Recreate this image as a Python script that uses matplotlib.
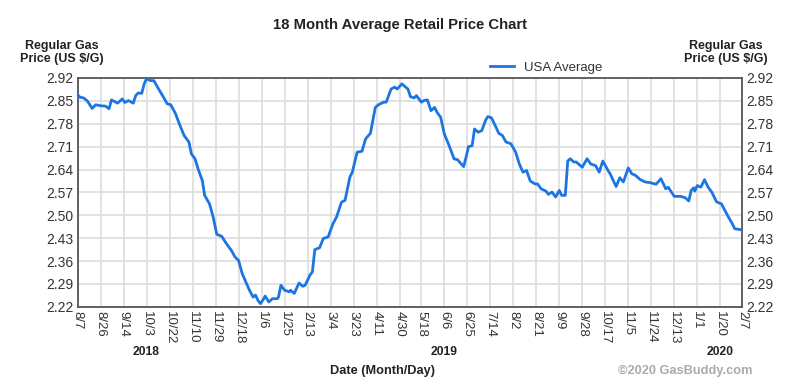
import pandas as pd
import matplotlib
matplotlib.use("Agg")
import matplotlib.pyplot as plt

plt.rcParams['font.family'] = ['Liberation Sans', 'DejaVu Sans']

# days since 2018-08-07 and average price (US $/gal)
start_date = "2018-08-07"
days = [0, 2, 5, 8, 12, 15, 19, 23, 26, 28, 33, 37, 39, 42, 46, 48, 50, 53, 55, 57,
        60, 63, 67, 71, 74, 77, 81, 84, 88, 92, 94, 97, 100, 103, 105, 109, 112, 115,
        119, 123, 127, 130, 133, 136, 139, 142, 145, 147, 149, 151, 153, 155, 158, 161,
        165, 166, 168, 171, 175, 176, 179, 183, 186, 188, 192, 194, 196, 200, 203, 207,
        211, 214, 218, 221, 225, 227, 231, 235, 238, 242, 246, 249, 253, 255, 259, 262,
        264, 268, 271, 273, 275, 278, 280, 284, 286, 289, 292, 295, 297, 300, 303, 307,
        311, 314, 317, 319, 321, 323, 326, 328, 331, 334, 337, 339, 342, 345, 348, 351,
        354, 358, 362, 365, 368, 371, 374, 378, 380, 383, 387, 389, 392, 395, 398, 400,
        403, 405, 407, 410, 412, 417, 421, 424, 428, 431, 434, 438, 440, 445, 448, 451,
        455, 458, 461, 465, 469, 473, 478, 482, 486, 488, 493, 498, 502, 505, 507, 509,
        510, 512, 515, 518, 521, 524, 528, 532, 537, 541, 543, 548, 549]
prices = [2.869, 2.861, 2.859, 2.850, 2.827, 2.838, 2.835, 2.834, 2.826, 2.853, 2.843,
          2.856, 2.845, 2.851, 2.843, 2.866, 2.874, 2.873, 2.902, 2.918, 2.912, 2.912,
          2.886, 2.861, 2.841, 2.838, 2.810, 2.780, 2.744, 2.724, 2.688, 2.673, 2.637,
          2.607, 2.561, 2.535, 2.495, 2.442, 2.436, 2.413, 2.393, 2.373, 2.362, 2.322,
          2.296, 2.271, 2.250, 2.256, 2.240, 2.230, 2.240, 2.253, 2.235, 2.245, 2.245,
          2.250, 2.286, 2.271, 2.266, 2.271, 2.261, 2.293, 2.283, 2.286, 2.317, 2.327,
          2.395, 2.401, 2.429, 2.434, 2.474, 2.495, 2.540, 2.546, 2.617, 2.632, 2.693,
          2.696, 2.734, 2.751, 2.830, 2.839, 2.846, 2.846, 2.886, 2.892, 2.886, 2.902,
          2.892, 2.886, 2.863, 2.859, 2.866, 2.846, 2.851, 2.853, 2.820, 2.830, 2.815,
          2.800, 2.749, 2.713, 2.673, 2.670, 2.657, 2.649, 2.678, 2.710, 2.713, 2.764,
          2.754, 2.759, 2.790, 2.802, 2.798, 2.775, 2.751, 2.744, 2.724, 2.719, 2.693,
          2.657, 2.632, 2.637, 2.605, 2.596, 2.596, 2.581, 2.574, 2.564, 2.571, 2.556,
          2.576, 2.561, 2.561, 2.666, 2.673, 2.663, 2.663, 2.647, 2.673, 2.657, 2.652,
          2.632, 2.666, 2.639, 2.627, 2.588, 2.615, 2.602, 2.645, 2.627, 2.622, 2.609,
          2.602, 2.600, 2.595, 2.612, 2.581, 2.586, 2.558, 2.558, 2.554, 2.544, 2.576,
          2.584, 2.574, 2.591, 2.586, 2.609, 2.586, 2.571, 2.541, 2.535, 2.500, 2.474,
          2.459, 2.456, 2.456]

tick_dates = ["2018-08-07", "2018-08-26", "2018-09-14", "2018-10-03", "2018-10-22",
              "2018-11-10", "2018-11-29", "2018-12-18", "2019-01-06", "2019-01-25",
              "2019-02-13", "2019-03-04", "2019-03-23", "2019-04-11", "2019-04-30",
              "2019-05-18", "2019-06-06", "2019-06-25", "2019-07-14", "2019-08-02",
              "2019-08-21", "2019-09-09", "2019-09-28", "2019-10-17", "2019-11-05",
              "2019-11-24", "2019-12-13", "2020-01-01", "2020-01-20", "2020-02-07"]
y_ticks = [2.22, 2.29, 2.36, 2.43, 2.50, 2.57, 2.64, 2.71, 2.78, 2.85, 2.92]
year_labels = ["2018", "2019", "2020"]
year_positions = ["2018-10-03", "2019-06-06", "2020-01-20"]

dates = pd.Timestamp(start_date) + pd.to_timedelta(days, unit="D")
ticks = pd.to_datetime(tick_dates)
tick_labels = [f"{d.month}/{d.day}" for d in ticks]

fig = plt.figure(figsize=(8, 3.86), dpi=100)
ax = fig.add_axes([0.097, 0.205, 0.8305, 0.593])

ax.plot(dates, prices, color='#1c75e0', linewidth=2.0, label='USA Average', zorder=3)

ax.set_xlim(ticks[0], ticks[-1])
ax.set_ylim(y_ticks[0], y_ticks[-1])
ax.set_xticks(ticks)
ax.set_xticklabels(tick_labels, rotation=270, fontsize=9.5, color='#333333')
ax.set_yticks(y_ticks)
ax.set_yticklabels([f"{v:.2f}" for v in y_ticks], fontsize=10, color='#333333')
ax.tick_params(axis='both', length=0, pad=3)
ax.tick_params(axis='y', labelright=True)
ax.grid(True, color='#dddddd', linewidth=1.2, zorder=0)
for s in ax.spines.values():
    s.set_color('#555555')
    s.set_linewidth(1.3)

fig.text(0.5, 0.935, "18 Month Average Retail Price Chart", ha='center', va='center',
         fontsize=10.7, fontweight='bold', color='#222222')
fig.text(0.077, 0.865, "Regular Gas\nPrice (US $/G)", ha='center', va='center',
         fontsize=9, fontweight='bold', color='#222222', linespacing=1.1)
fig.text(0.907, 0.865, "Regular Gas\nPrice (US $/G)", ha='center', va='center',
         fontsize=9, fontweight='bold', color='#222222', linespacing=1.1)

# year labels under the date ticks
for lbl, pos in zip(year_labels, year_positions):
    ax.text(pd.Timestamp(pos), -0.197, lbl, transform=ax.get_xaxis_transform(),
            ha='center', va='center', fontsize=8.7, fontweight='bold', color='#222222')

fig.text(0.478, 0.038, "Date (Month/Day)", ha='center', va='center',
         fontsize=9.2, fontweight='bold', color='#222222')
fig.text(0.941, 0.038, "\u00a92020 GasBuddy.com", ha='right', va='center',
         fontsize=9.2, fontweight='bold', color='#aaaaaa')

ax.legend(loc='center', bbox_to_anchor=(0.683, 0.825), bbox_transform=fig.transFigure,
          frameon=False, fontsize=9.5, handlelength=1.8, labelcolor='#333333')

fig.savefig("out.png", dpi=100)
